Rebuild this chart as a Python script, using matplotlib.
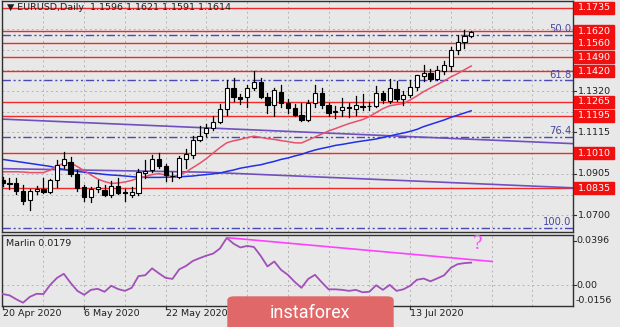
import matplotlib.pyplot as plt
import matplotlib.transforms as mtransforms
from matplotlib.patches import Rectangle, FancyBboxPatch

W, H = 620, 327

# daily bars, 20 Apr 2020 .. 24 Jul 2020
opens = [1.0873, 1.0862, 1.0858, 1.0822, 1.0773, 1.0820, 1.0829, 1.0817, 1.0873, 1.0950,
         1.0965, 1.0905, 1.0842, 1.0792, 1.0831, 1.0825, 1.0800, 1.0847, 1.0817, 1.0800,
         1.0808, 1.0912, 1.0925, 1.0978, 1.0945, 1.0897, 1.0892, 1.0980, 1.1000, 1.1075,
         1.1112, 1.1134, 1.1167, 1.1229, 1.1334, 1.1289, 1.1292, 1.1334, 1.1367, 1.1292,
         1.1250, 1.1317, 1.1262, 1.1237, 1.1200, 1.1175, 1.1258, 1.1308, 1.1250, 1.1220,
         1.1225, 1.1238, 1.1230, 1.1242, 1.1244, 1.1245, 1.1310, 1.1270, 1.1330, 1.1280,
         1.1300, 1.1342, 1.1395, 1.1410, 1.1380, 1.1420, 1.1445, 1.1525, 1.1567, 1.1596]
highs = [1.0888, 1.0885, 1.0885, 1.0850, 1.0828, 1.0845, 1.0887, 1.0880, 1.0975, 1.1017,
         1.0990, 1.0925, 1.0852, 1.0838, 1.0875, 1.0850, 1.0870, 1.0885, 1.0830, 1.0840,
         1.0930, 1.0975, 1.1000, 1.1008, 1.0955, 1.0915, 1.0995, 1.1030, 1.1093, 1.1145,
         1.1154, 1.1197, 1.1257, 1.1375, 1.1384, 1.1305, 1.1350, 1.1422, 1.1386, 1.1310,
         1.1335, 1.1350, 1.1279, 1.1256, 1.1258, 1.1275, 1.1350, 1.1337, 1.1262, 1.1245,
         1.1287, 1.1262, 1.1295, 1.1303, 1.1267, 1.1345, 1.1319, 1.1378, 1.1372, 1.1318,
         1.1375, 1.1402, 1.1452, 1.1428, 1.1444, 1.1468, 1.1540, 1.1601, 1.1627, 1.1621]
lows = [1.0845, 1.0830, 1.0803, 1.0755, 1.0727, 1.0805, 1.0810, 1.0812, 1.0840, 1.0935,
        1.0895, 1.0820, 1.0768, 1.0766, 1.0815, 1.0795, 1.0790, 1.0805, 1.0770, 1.0790,
        1.0800, 1.0885, 1.0915, 1.0935, 1.0870, 1.0870, 1.0885, 1.0936, 1.0985, 1.1070,
        1.1095, 1.1123, 1.1160, 1.1200, 1.1270, 1.1255, 1.1242, 1.1325, 1.1285, 1.1209,
        1.1195, 1.1240, 1.1209, 1.1195, 1.1168, 1.1170, 1.1240, 1.1236, 1.1196, 1.1185,
        1.1195, 1.1190, 1.1200, 1.1225, 1.1224, 1.1240, 1.1259, 1.1260, 1.1269, 1.1250,
        1.1290, 1.1325, 1.1370, 1.1370, 1.1375, 1.1405, 1.1422, 1.1507, 1.1536, 1.1591]
closes = [1.0862, 1.0857, 1.0820, 1.0770, 1.0818, 1.0828, 1.0815, 1.0873, 1.0950, 1.0980,
          1.0905, 1.0835, 1.0792, 1.0829, 1.0840, 1.0800, 1.0847, 1.0812, 1.0808, 1.0817,
          1.0917, 1.0920, 1.0978, 1.0945, 1.0900, 1.0893, 1.0983, 1.1005, 1.1075, 1.1095,
          1.1134, 1.1167, 1.1229, 1.1334, 1.1289, 1.1282, 1.1334, 1.1367, 1.1292, 1.1250,
          1.1325, 1.1259, 1.1237, 1.1200, 1.1175, 1.1258, 1.1308, 1.1250, 1.1212, 1.1215,
          1.1240, 1.1236, 1.1250, 1.1244, 1.1246, 1.1312, 1.1274, 1.1335, 1.1282, 1.1298,
          1.1342, 1.1400, 1.1410, 1.1380, 1.1425, 1.1450, 1.1525, 1.1567, 1.1597, 1.1614]

# moving averages
ma_fast = [1.0916, 1.0916, 1.0916, 1.0915, 1.0912, 1.0912, 1.0912, 1.0925, 1.0945, 1.0958,
           1.0961, 1.0942, 1.0922, 1.0900, 1.0880, 1.0867, 1.0858, 1.0860, 1.0865, 1.0873,
           1.0885, 1.0892, 1.0902, 1.0907, 1.0900, 1.0892, 1.0900, 1.0915, 1.0937, 1.0958,
           1.0982, 1.1010, 1.1037, 1.1061, 1.1071, 1.1078, 1.1087, 1.1094, 1.1088, 1.1082,
           1.1078, 1.1072, 1.1067, 1.1061, 1.1060, 1.1075, 1.1090, 1.1105, 1.1120, 1.1132,
           1.1145, 1.1157, 1.1167, 1.1177, 1.1192, 1.1212, 1.1232, 1.1246, 1.1252, 1.1257,
           1.1275, 1.1295, 1.1317, 1.1335, 1.1352, 1.1370, 1.1390, 1.1407, 1.1426, 1.1445]
ma_slow = [1.0978, 1.0973, 1.0968, 1.0963, 1.0958, 1.0953, 1.0948, 1.0943, 1.0935, 1.0928,
           1.0923, 1.0918, 1.0914, 1.0910, 1.0907, 1.0903, 1.0900, 1.0898, 1.0895, 1.0892,
           1.0889, 1.0888, 1.0888, 1.0888, 1.0889, 1.0890, 1.0891, 1.0893, 1.0895, 1.0899,
           1.0902, 1.0906, 1.0910, 1.0918, 1.0925, 1.0934, 1.0940, 1.0946, 1.0951, 1.0960,
           1.0968, 1.0978, 1.0985, 1.0995, 1.1003, 1.1015, 1.1025, 1.1033, 1.1040, 1.1048,
           1.1053, 1.1059, 1.1065, 1.1070, 1.1075, 1.1080, 1.1088, 1.1095, 1.1103, 1.1110,
           1.1118, 1.1128, 1.1142, 1.1153, 1.1164, 1.1175, 1.1188, 1.1199, 1.1210, 1.1221]

marlin = [-0.0068, -0.0078, -0.0109, -0.0136, -0.0090, -0.0066, -0.0068, 0.0004, 0.0059, 0.0091,
          0.0020, -0.0043, -0.0074, -0.0035, -0.0027, -0.0050, -0.0003, -0.0029, -0.0043, -0.0019,
          0.0073, 0.0080, 0.0134, 0.0095, 0.0059, 0.0051, 0.0126, 0.0153, 0.0192, 0.0214,
          0.0234, 0.0250, 0.0290, 0.0373, 0.0328, 0.0298, 0.0310, 0.0302, 0.0232, 0.0149,
          0.0188, 0.0122, 0.0083, 0.0028, -0.0019, 0.0051, 0.0083, 0.0024, -0.0031, -0.0031,
          -0.0035, -0.0043, -0.0035, -0.0054, -0.0050, 0.0001, -0.0035, 0.0004, -0.0043, -0.0031,
          -0.0003, 0.0044, 0.0054, 0.0032, 0.0055, 0.0079, 0.0138, 0.0167, 0.0175, 0.0179]

levels = [1.1735, 1.1620, 1.1560, 1.1490, 1.1420, 1.1265, 1.1195, 1.1010, 1.0835]
fib_names = ["50.0", "61.8", "76.4", "100.0"]
fib_prices = [1.1602, 1.1374, 1.1092, 1.0636]
axis_prices = [1.1320, 1.1115, 1.0905, 1.0700]
grid_prices = [1.0700, 1.0800, 1.0905, 1.1010, 1.1115, 1.1215, 1.1320, 1.1425, 1.1525, 1.1630, 1.1735]
trend_a = [(-0.4, 1.1180), (83.9, 1.1057)]
trend_b = [(-0.4, 1.0932), (30.0, 1.0914), (58.5, 1.0873), (83.9, 1.0836)]
div_line = [(33.1, 0.0375), (72.1, 0.0188)]
tick_idx = [0, 12, 24, 36, 48, 60]
# labels for 9 Jun and 25 Jun sit under the watermark and are not visible
date_idx = [0, 12, 24, 60]
date_labels = ["20 Apr 2020", "6 May 2020", "22 May 2020", "13 Jul 2020"]

bg = "#e8e8e8"
fs = 6.8
plt.rcParams["font.family"] = "DejaVu Sans"
fig = plt.figure(figsize=(W / 100, H / 100), dpi=100, facecolor=bg)


def box(x0, y0, x1, y1):
    return [x0 / W, 1 - y1 / H, (x1 - x0) / W, (y1 - y0) / H]


ax = fig.add_axes(box(2, 1, 572.5, 232))
ind = fig.add_axes(box(2, 234.5, 572.5, 305.5))
for a in (ax, ind):
    a.set_facecolor(bg)
    a.set_xlim(-0.1, 83.92)
    a.set_xticks([])
    a.set_yticks([])
    for s in a.spines.values():
        s.set_color("#303030")
        s.set_linewidth(1.0)
    for k in range(6, 84, 6):
        a.axvline(k, color="#b4b4b4", lw=0.7, ls=(0, (2, 3)), zorder=0)
ax.set_ylim(1.0615, 1.1770)
ind.set_ylim(-0.0158, 0.0400)

for p in grid_prices:
    ax.axhline(p, color="#b4b4b4", lw=0.7, ls=(0, (2, 3)), zorder=0)
ind.axhline(0, color="#b4b4b4", lw=0.7, ls=(0, (2, 3)), zorder=0)

for p in levels:
    ax.axhline(p, color="#f02828", lw=1.0, zorder=1)
for name, p in zip(fib_names, fib_prices):
    ax.axhline(p, color="#4848b8", lw=1.0, ls=(0, (6, 2, 1.5, 2, 1.5, 2)), zorder=1)
    ax.text(83.7, p + 0.0003, name, color="#4848a0", fontsize=7.2, ha="right", va="bottom")

ax.plot(*zip(*trend_a), color="#7050c0", lw=1.2, zorder=2)
ax.plot(*zip(*trend_b), color="#7050c0", lw=1.2, zorder=2)

x = list(range(len(closes)))
ax.plot(x, ma_slow, color="#2030e8", lw=1.1, zorder=2)
ax.plot(x, ma_fast, color="#e8506a", lw=1.1, zorder=2)

# candles
for i in x:
    o, h, l, c = opens[i], highs[i], lows[i], closes[i]
    ax.plot([i, i], [l, h], color="black", lw=0.9, zorder=3)
    fc = "white" if c >= o else "black"
    ax.bar(i, max(abs(c - o), 0.00005), bottom=min(o, c), width=0.62,
           color=fc, edgecolor="black", linewidth=0.8, zorder=4)

ax.text(0.6, 1.1758, "\u25bc EURUSD,Daily  1.1596 1.1621 1.1591 1.1614",
        fontsize=fs, color="#202020", va="top", ha="left")

# right price scale
tr = mtransforms.blended_transform_factory(fig.transFigure, ax.transData)
for p in levels:
    ax.add_patch(Rectangle((574 / W, p - 0.0032), 40 / W, 0.0064, transform=tr,
                           color="#f01010", clip_on=False, zorder=5))
    ax.text(578 / W, p, "%.4f" % p, transform=tr, color="white", fontsize=fs,
            va="center", ha="left", clip_on=False, zorder=6)
for p in axis_prices:
    ax.text(578 / W, p, "%.4f" % p, transform=tr, color="#202020", fontsize=fs,
            va="center", ha="left", clip_on=False)
    ax.plot([572.5 / W, 575.5 / W], [p, p], transform=tr, color="#303030", lw=0.8, clip_on=False)

# indicator
ind.plot(x, marlin, color="#a050b8", lw=1.3, zorder=3)
ind.plot(*zip(*div_line), color="#ff40ff", lw=1.2, zorder=3)
ind.text(70.0, 0.0255, "?", color="#ff50ff", fontsize=13, ha="center", va="bottom", family="DejaVu Serif")
ind.text(0.5, 0.0330, "Marlin 0.0179", fontsize=fs, color="#202020", va="center", ha="left")
tri = mtransforms.blended_transform_factory(fig.transFigure, ind.transData)
for v, s in [(0.0352, "0.0396"), (0.0, "0.00"), (-0.0121, "-0.0156")]:
    ind.text(576 / W, v, s, transform=tri, color="#202020", fontsize=fs, va="center",
             ha="left", clip_on=False)
for v in [0.0352, 0.0]:
    ind.plot([572.5 / W, 575.5 / W], [v, v], transform=tri, color="#303030", lw=0.8, clip_on=False)

trd = mtransforms.blended_transform_factory(ind.transData, fig.transFigure)
for k in tick_idx:
    ind.plot([k, k], [1 - 305.5 / H, 1 - 309 / H], transform=trd, color="#303030", lw=0.9, clip_on=False)
for k, s in zip(date_idx, date_labels):
    ind.text(k, 1 - 314 / H, s, transform=trd, color="#202020", fontsize=fs, ha="left",
             va="center", clip_on=False)

# watermark
fig.patches.append(FancyBboxPatch((228 / W, -0.05), 165 / W, (30 / H) + 0.05,
                                  boxstyle="round,pad=0,rounding_size=0.01",
                                  transform=fig.transFigure, color="#e06868", zorder=10))
fig.text(310 / W, 1 - 313 / H, "instaforex", color="white", fontsize=13, ha="center",
         va="center", family="Roboto", zorder=11)

fig.savefig("out.png", dpi=100, facecolor=bg)
